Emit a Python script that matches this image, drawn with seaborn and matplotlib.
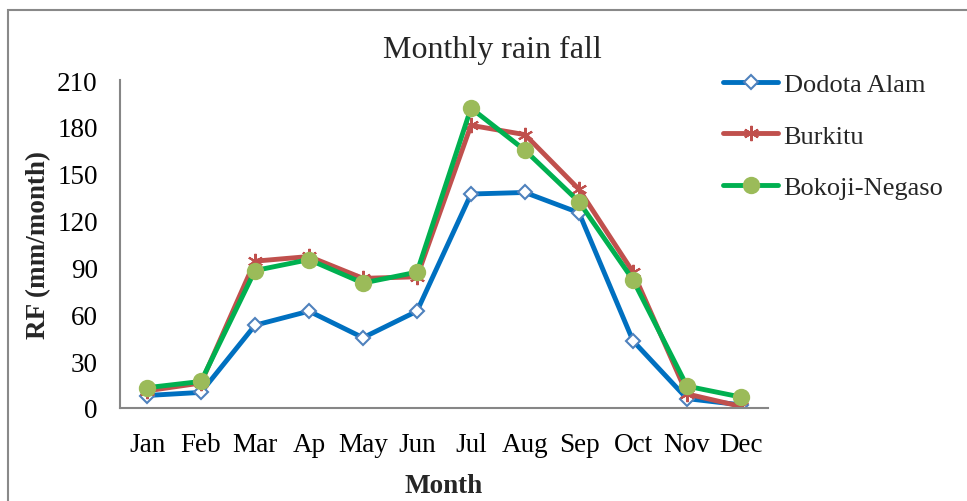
import matplotlib
matplotlib.use("Agg")
import matplotlib.pyplot as plt
import matplotlib.patches as mpatches
import seaborn as sns
import pandas as pd

months = ["Jan", "Feb", "Mar", "Ap", "May", "Jun", "Jul", "Aug", "Sep", "Oct", "Nov", "Dec"]
dodota_alam = [8, 10, 53, 62, 45, 62, 137, 138, 125, 43, 6, 2]
burkitu = [11, 16, 94, 97, 83, 84, 181, 175, 140, 87, 9, 1]
bokoji_negaso = [13, 17, 88, 95, 80, 87, 192, 165, 132, 82, 14, 7]
y_ticks = [0, 30, 60, 90, 120, 150, 180, 210]

sns.set_theme(style="white")
plt.rcParams["font.family"] = ["Liberation Serif", "DejaVu Serif"]

df = pd.DataFrame({"Month": months, "Dodota Alam": dodota_alam,
                   "Burkitu": burkitu, "Bokoji-Negaso": bokoji_negaso})

# line colour, marker, marker face, marker edge, marker size
styles = {
    "Dodota Alam": ("#0070C0", "D", "white", "#4F81BD", 7),
    "Burkitu": ("#C0504D", (6, 2, 0), "#C0504D", "#C0504D", 11),
    "Bokoji-Negaso": ("#00B050", "o", "#9BBB59", "#9BBB59", 11),
}

fs = 19.5

fig = plt.figure(figsize=(9.67, 5.02), dpi=100)
ax = fig.add_axes([120 / 967, 1 - 409 / 502, (768 - 120) / 967, (409 - 81) / 502])

for name, (col, mk, mfc, mec, ms) in styles.items():
    sns.lineplot(data=df, x="Month", y=name, ax=ax, sort=False, color=col, lw=3.5,
                 marker=mk, markerfacecolor=mfc, markeredgecolor=mec,
                 markeredgewidth=1.5, markersize=ms, label=name)

ax.set_xlim(-0.5, len(months) - 0.5)
ax.set_ylim(0, 210)
ax.set_yticks(y_ticks)
ax.tick_params(axis="both", length=0, labelsize=fs, colors="black")
ax.tick_params(axis="x", pad=17)
ax.tick_params(axis="y", pad=16)
for side in ["top", "right"]:
    ax.spines[side].set_visible(False)
for side in ["left", "bottom"]:
    ax.spines[side].set_color("#868686")
    ax.spines[side].set_linewidth(1.5)

ax.set_xlabel("Month", fontsize=fs, fontweight="bold", labelpad=12)
ax.set_ylabel("RF (mm/month)", fontsize=fs, fontweight="bold", labelpad=4)
fig.text(492 / 967, 1 - 50 / 502, "Monthly rain fall", fontsize=23, ha="center", va="center")

ax.legend(loc="upper left", bbox_to_anchor=(723 / 967, 1 - 74 / 502),
          bbox_transform=fig.transFigure, frameon=False, fontsize=19,
          handlelength=2.1, handletextpad=0.2, labelspacing=1.05, borderpad=0,
          borderaxespad=0)

fig.patches.append(mpatches.Rectangle((8 / 967, -0.1), 1.2, 1 - 11 / 502 + 0.1,
                                      transform=fig.transFigure, fill=False,
                                      edgecolor="#898989", lw=1.5))

fig.savefig("out.png", dpi=100)
